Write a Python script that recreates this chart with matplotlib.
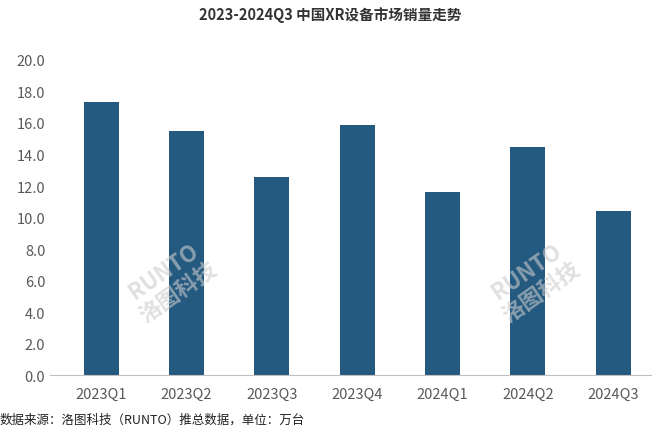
import matplotlib.pyplot as plt

plt.rcParams['font.family'] = ['Noto Sans CJK SC', 'DejaVu Sans']

quarters = ['2023Q1', '2023Q2', '2023Q3', '2023Q4', '2024Q1', '2024Q2', '2024Q3']
sales = [17.3, 15.5, 12.6, 15.9, 11.6, 14.5, 10.4]

fig = plt.figure(figsize=(6.6, 4.35), dpi=100)
ax = fig.add_axes([0.076, 0.135, 0.911, 0.725])

ax.bar(quarters, sales, width=0.41, color='#255a80')
ax.set_ylim(0, 20)
ax.set_yticks(range(0, 21, 2))
ax.set_yticklabels([f'{v:.1f}' for v in range(0, 21, 2)])
ax.set_xlim(-0.6, 6.45)
ax.tick_params(axis='both', length=0, labelsize=10.5, colors='#595959')
ax.tick_params(axis='x', pad=8)
for s in ['top', 'right', 'left']:
    ax.spines[s].set_visible(False)
ax.spines['bottom'].set_color('#bfbfbf')

# watermarks
for x, y in [(0.26, 0.35), (0.81, 0.35)]:
    fig.text(x, y, 'RUNTO\n洛图科技', rotation=35, fontsize=16, color='#cccccc',
             alpha=0.6, ha='center', va='center', fontweight='bold')

fig.text(0.5, 0.965, '2023-2024Q3 中国XR设备市场销量走势', ha='center', va='center',
         fontsize=10.5, fontweight='bold', color='#333333')
fig.text(0.0, 0.035, '数据来源：洛图科技（RUNTO）推总数据，单位：万台', ha='left', va='center',
         fontsize=9, color='#222222')

fig.savefig('out.png', dpi=100)
